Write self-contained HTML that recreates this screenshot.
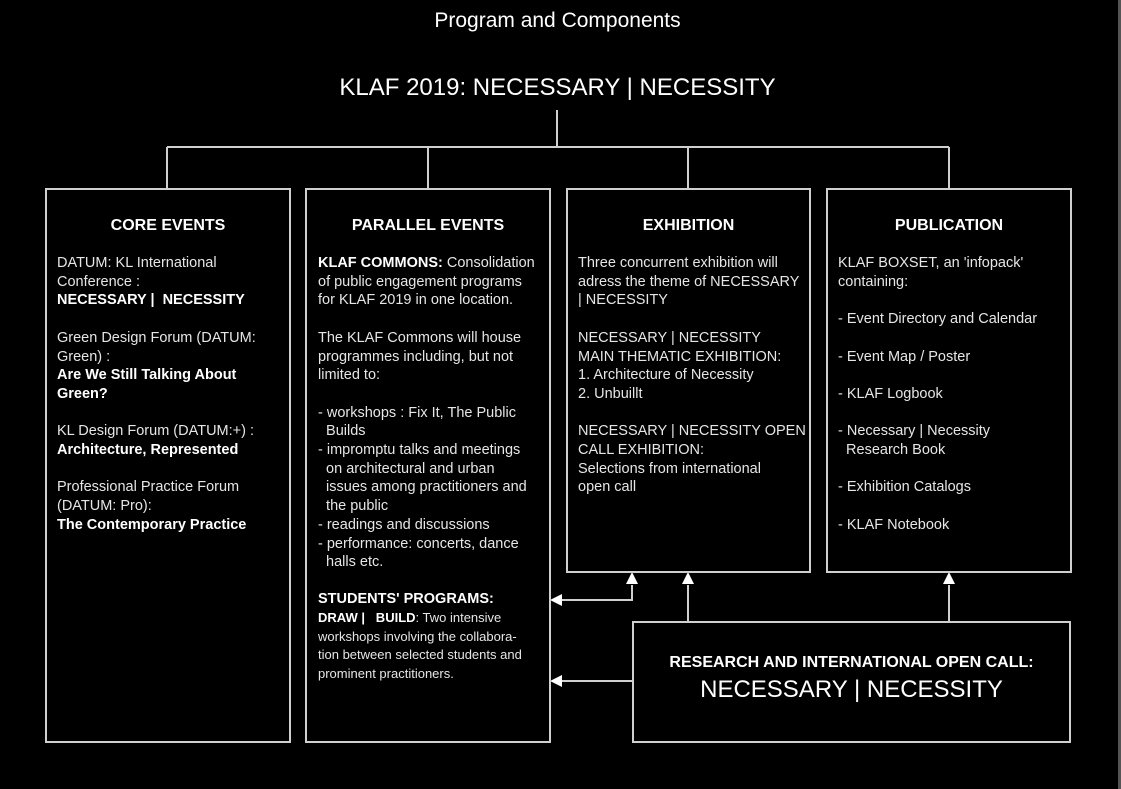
<!DOCTYPE html>
<html><head><meta charset="utf-8"><style>
body{margin:0;width:1121px;height:789px;background:#000;position:relative;overflow:hidden;font-family:"Liberation Sans",Arial,sans-serif;color:#e6e6e6}
.a{position:absolute}
.box{position:absolute;border:2px solid #cfcfcf;box-sizing:border-box}
.t{position:absolute;font-weight:bold;font-size:16px;color:#fff;text-align:center;width:100%;left:0}
.tx{position:absolute;font-size:14.5px;line-height:18.7px;white-space:nowrap}
b{color:#fff}
.sm{font-size:13px}
</style></head><body>
<div class="a" style="left:0;width:1115px;top:9px;text-align:center;font-size:21px;color:#fff">Program and Components</div>
<div class="a" style="left:0;width:1115px;top:74px;text-align:center;font-size:24px;color:#fff">KLAF 2019: NECESSARY | NECESSITY</div>
<div class="a" style="right:0;top:0;width:3px;height:789px;background:#555"></div>

<svg class="a" style="left:0;top:0" width="1121" height="789">
<g stroke="#cfcfcf" stroke-width="2" fill="none">
<path d="M557 110V147M167 147H949M167 147V188M428 147V188M688 147V188M949 147V188"/>
<path d="M632 585V600H560M688 621V585M949 621V585M632 681H560"/>
</g>
<g fill="#fff">
<path d="M632 572l-6 12h12z"/><path d="M688 572l-6 12h12z"/><path d="M949 572l-6 12h12z"/>
<path d="M550 600l12 -6v12z"/><path d="M550 681l12 -6v12z"/>
</g>
</svg>

<div class="box" style="left:45px;top:188px;width:246px;height:555px">
<div class="t" style="top:27px">CORE EVENTS</div>
<div class="tx" style="left:10px;top:64px">DATUM: KL International<br>Conference :<br><b>NECESSARY |&nbsp; NECESSITY</b><br><br>Green Design Forum (DATUM:<br>Green) :<br><b>Are We Still Talking About<br>Green?</b><br><br>KL Design Forum (DATUM:+) :<br><b>Architecture, Represented</b><br><br>Professional Practice Forum<br>(DATUM: Pro):<br><b>The Contemporary Practice</b></div>
</div>

<div class="box" style="left:305px;top:188px;width:246px;height:555px">
<div class="t" style="top:27px">PARALLEL EVENTS</div>
<div class="tx" style="left:11px;top:64px"><b>KLAF COMMONS:</b> Consolidation<br>of public engagement programs<br>for KLAF 2019 in one location.<br><br>The KLAF Commons will house<br>programmes including, but not<br>limited to:<br><br>- workshops : Fix It, The Public<br>&nbsp;&nbsp;Builds<br>- impromptu talks and meetings<br>&nbsp;&nbsp;on architectural and urban<br>&nbsp;&nbsp;issues among practitioners and<br>&nbsp;&nbsp;the public<br>- readings and discussions<br>- performance: concerts, dance<br>&nbsp;&nbsp;halls etc.</div>
<div class="tx" style="left:11px;top:400px"><b>STUDENTS' PROGRAMS:</b></div>
<div class="tx sm" style="left:11px;top:419px"><b>DRAW |&nbsp;&nbsp; BUILD</b>: Two intensive<br>workshops involving the collabora-<br>tion between selected students and<br>prominent practitioners.</div>
</div>

<div class="box" style="left:566px;top:188px;width:245px;height:385px">
<div class="t" style="top:27px">EXHIBITION</div>
<div class="tx" style="left:10px;top:64px">Three concurrent exhibition will<br>adress the theme of NECESSARY<br>| NECESSITY<br><br>NECESSARY | NECESSITY<br>MAIN THEMATIC EXHIBITION:<br>1. Architecture of Necessity<br>2. Unbuillt<br><br>NECESSARY | NECESSITY OPEN<br>CALL EXHIBITION:<br>Selections from international<br>open call</div>
</div>

<div class="box" style="left:826px;top:188px;width:246px;height:385px">
<div class="t" style="top:27px">PUBLICATION</div>
<div class="tx" style="left:10px;top:64px">KLAF BOXSET, an 'infopack'<br>containing:<br><br>- Event Directory and Calendar<br><br>- Event Map / Poster<br><br>- KLAF Logbook<br><br>- Necessary | Necessity<br>&nbsp;&nbsp;Research Book<br><br>- Exhibition Catalogs<br><br>- KLAF Notebook</div>
</div>

<div class="box" style="left:632px;top:621px;width:439px;height:122px">
<div class="a" style="left:0;width:100%;top:31px;text-align:center;font-weight:bold;font-size:16px;color:#fff">RESEARCH AND INTERNATIONAL OPEN CALL:</div>
<div class="a" style="left:0;width:100%;top:53px;text-align:center;font-size:24px;color:#fff">NECESSARY | NECESSITY</div>
</div>
</body></html>
